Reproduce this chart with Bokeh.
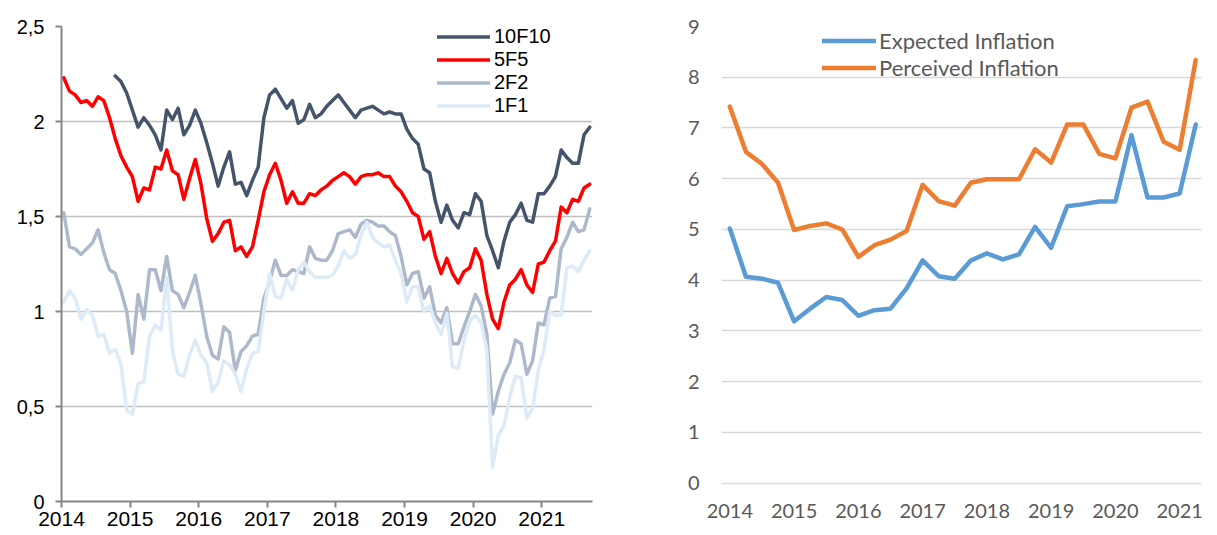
import math
from bokeh.plotting import figure
from bokeh.models import ColumnDataSource, FixedTicker, Legend, LegendItem
from bokeh.layouts import row
from bokeh.embed import file_html
from bokeh.resources import INLINE

nan = float("nan")

# ---------------- Left panel data: monthly forward inflation expectations ----------------
left_first_year = 2014
left_n_months = 93  # Jan 2014 .. Sep 2021

f10_10 = [nan] * 9 + [
    2.24, 2.21, 2.15, 2.06, 1.97, 2.02, 1.98, 1.93, 1.85, 2.06,
    2.01, 2.07, 1.93, 1.98, 2.06, 1.99, 1.89, 1.78, 1.66, 1.76,
    1.84, 1.67, 1.68, 1.61, 1.69, 1.76, 2.02, 2.14, 2.17, 2.12,
    2.07, 2.11, 1.99, 2.01, 2.09, 2.02, 2.04, 2.08, 2.11, 2.14,
    2.10, 2.06, 2.02, 2.06, 2.07, 2.08, 2.06, 2.04, 2.05, 2.04,
    2.04, 1.96, 1.91, 1.88, 1.75, 1.73, 1.58, 1.47, 1.56, 1.48,
    1.44, 1.52, 1.51, 1.62, 1.58, 1.40, 1.32, 1.23, 1.37, 1.47,
    1.51, 1.57, 1.48, 1.47, 1.62, 1.62, 1.66, 1.71, 1.85, 1.81,
    1.78, 1.78, 1.93, 1.97,
]
f5_5 = [
    2.23, 2.16, 2.14, 2.10, 2.11, 2.08, 2.13, 2.11, 2.02, 1.91,
    1.82, 1.76, 1.71, 1.58, 1.65, 1.64, 1.76, 1.75, 1.85, 1.74,
    1.72, 1.59, 1.70, 1.80, 1.67, 1.49, 1.37, 1.41, 1.47, 1.48,
    1.32, 1.34, 1.29, 1.34, 1.48, 1.63, 1.72, 1.78, 1.69, 1.57,
    1.63, 1.57, 1.57, 1.62, 1.61, 1.64, 1.66, 1.69, 1.71, 1.73,
    1.71, 1.67, 1.71, 1.72, 1.72, 1.73, 1.71, 1.71, 1.66, 1.63,
    1.58, 1.52, 1.50, 1.38, 1.42, 1.29, 1.20, 1.28, 1.20, 1.15,
    1.21, 1.23, 1.33, 1.27, 1.09, 0.96, 0.91, 1.05, 1.14, 1.17,
    1.22, 1.14, 1.10, 1.25, 1.26, 1.32, 1.37, 1.55, 1.52, 1.59,
    1.58, 1.65, 1.67,
]
f2_2 = [
    1.52, 1.34, 1.33, 1.30, 1.33, 1.36, 1.43, 1.31, 1.22, 1.20,
    1.11, 1.00, 0.78, 1.09, 0.96, 1.22, 1.22, 1.11, 1.29, 1.11,
    1.09, 1.02, 1.10, 1.19, 1.04, 0.87, 0.77, 0.75, 0.92, 0.89,
    0.69, 0.79, 0.82, 0.87, 0.88, 1.07, 1.16, 1.27, 1.19, 1.19,
    1.22, 1.21, 1.20, 1.34, 1.28, 1.27, 1.27, 1.32, 1.41, 1.42,
    1.43, 1.39, 1.46, 1.48, 1.47, 1.45, 1.45, 1.42, 1.40, 1.29,
    1.14, 1.20, 1.21, 1.07, 1.13, 0.98, 0.94, 1.02, 0.83, 0.83,
    0.92, 1.00, 1.09, 1.03, 0.88, 0.46, 0.58, 0.67, 0.73, 0.85,
    0.83, 0.67, 0.74, 0.94, 0.93, 1.07, 1.08, 1.33, 1.39, 1.47,
    1.42, 1.43, 1.54,
]
f1_1 = [
    1.05, 1.11, 1.07, 0.96, 1.01, 0.98, 0.87, 0.88, 0.78, 0.80,
    0.72, 0.48, 0.46, 0.62, 0.63, 0.87, 0.93, 0.90, 1.18, 0.79,
    0.67, 0.66, 0.77, 0.85, 0.77, 0.73, 0.58, 0.63, 0.74, 0.72,
    0.67, 0.58, 0.70, 0.78, 0.79, 1.00, 1.20, 1.08, 1.07, 1.17,
    1.11, 1.22, 1.26, 1.21, 1.18, 1.18, 1.18, 1.19, 1.24, 1.32,
    1.28, 1.30, 1.40, 1.47, 1.39, 1.36, 1.34, 1.35, 1.27, 1.20,
    1.05, 1.13, 1.13, 1.00, 1.03, 0.94, 0.88, 0.99, 0.71, 0.70,
    0.85, 0.95, 0.98, 0.94, 0.80, 0.18, 0.35, 0.40, 0.55, 0.66,
    0.65, 0.44, 0.49, 0.69, 0.80, 1.00, 0.98, 0.98, 1.23, 1.24,
    1.21, 1.27, 1.32,
]
left_series_names = ["10F10", "5F5", "2F2", "1F1"]
left_x_ticks = [2014, 2015, 2016, 2017, 2018, 2019, 2020, 2021]
left_x_labels = ["2014", "2015", "2016", "2017", "2018", "2019", "2020", "2021"]
left_y_ticks = [0, 0.5, 1, 1.5, 2, 2.5]
left_y_labels = ["0", "0,5", "1", "1,5", "2", "2,5"]

# ---------------- Right panel data: quarterly household inflation ----------------
right_first_year = 2014
expected_infl = [5.02, 4.07, 4.03, 3.95, 3.19, 3.44, 3.67, 3.61, 3.30, 3.41,
                 3.44, 3.84, 4.39, 4.08, 4.03, 4.39, 4.53, 4.41, 4.51, 5.05,
                 4.64, 5.46, 5.50, 5.55, 5.55, 6.86, 5.63, 5.63, 5.71, 7.07]
perceived_infl = [7.42, 6.53, 6.29, 5.92, 4.99, 5.07, 5.12, 5.00, 4.46, 4.69,
                  4.80, 4.97, 5.88, 5.56, 5.47, 5.92, 5.99, 5.99, 5.99, 6.58,
                  6.32, 7.07, 7.07, 6.49, 6.40, 7.40, 7.52, 6.73, 6.57, 8.34]
right_series_names = ["Expected Inflation", "Perceived Inflation"]
right_x_ticks = [2014, 2015, 2016, 2017, 2018, 2019, 2020, 2021]
right_x_labels = ["2014", "2015", "2016", "2017", "2018", "2019", "2020", "2021"]
right_y_ticks = list(range(0, 10))

FIG_H = 535
BOTTOM = 34  # shared bottom border (frames of a row are aligned by Bokeh)

# ---------------- Left figure ----------------
left_x = [left_first_year + (m + 0.4) / 12 for m in range(left_n_months)]
lsrc = ColumnDataSource(dict(x=left_x, a=f10_10, b=f5_5, c=f2_2, d=f1_1))

AXIS_GRAY = "#868686"
p1 = figure(width=620, height=FIG_H, x_range=(2014, 2021.74), y_range=(0, 2.5),
            output_backend="svg", toolbar_location=None,
            min_border_left=61, min_border_right=28, min_border_top=26,
            min_border_bottom=BOTTOM)
p1.outline_line_color = None
p1.xgrid.grid_line_color = None
p1.ygrid.grid_line_color = "#C0C0C0"
p1.ygrid.grid_line_width = 1.5

p1.xaxis.ticker = FixedTicker(ticks=left_x_ticks)
p1.xaxis.major_label_overrides = {t: l for t, l in zip(left_x_ticks, left_x_labels)}
p1.yaxis.ticker = FixedTicker(ticks=left_y_ticks)
p1.ygrid.ticker = FixedTicker(ticks=left_y_ticks)
p1.yaxis.major_label_overrides = {t: l for t, l in zip(left_y_ticks, left_y_labels)}
for ax in (p1.xaxis[0], p1.yaxis[0]):
    ax.axis_line_color = AXIS_GRAY
    ax.axis_line_width = 2
    ax.major_tick_line_color = AXIS_GRAY
    ax.major_tick_line_width = 2
    ax.major_tick_out = 6
    ax.major_tick_in = 0
    ax.minor_tick_line_color = None
    ax.major_label_text_font = "Liberation Sans"
    ax.major_label_text_color = "#000000"
    ax.axis_label_standoff = 0
p1.xaxis.major_label_text_font_size = "21px"
p1.yaxis.major_label_text_font_size = "20px"
p1.xaxis.major_label_standoff = 4
p1.yaxis.major_label_standoff = 11

left_colors = ["#44546A", "#FF0000", "#ADB9CA", "#DDEBF7"]
rends = []
for key, col in zip(["a", "b", "c", "d"], left_colors):
    r = p1.line("x", key, source=lsrc, line_color=col, line_width=3.5,
                line_join="round", line_cap="round")
    rends.append(r)

leg1 = Legend(items=[LegendItem(label=n, renderers=[r]) for n, r in zip(left_series_names, rends)],
              location=(376, 384), orientation="vertical",
              glyph_width=53, glyph_height=21, label_height=21, spacing=-1,
              padding=0, margin=0, label_standoff=4,
              label_text_font="Liberation Sans", label_text_font_size="20px",
              label_text_color="#000000", border_line_color=None,
              background_fill_alpha=0)
p1.add_layout(leg1)

# ---------------- Right figure ----------------
right_x = [right_first_year + q / 4 for q in range(len(expected_infl))]
rsrc = ColumnDataSource(dict(x=right_x, e=expected_infl, p=perceived_infl))

TXT_GRAY = "#595959"
# frame bottom is shared with the left panel; the value axis starts slightly
# below zero so that the zero gridline sits higher, as in the original
p2 = figure(width=597, height=FIG_H, x_range=(2013.87, 2021.34), y_range=(-0.36, 9),
            output_backend="svg", toolbar_location=None,
            min_border_left=101, min_border_right=16, min_border_top=26,
            min_border_bottom=BOTTOM)
p2.outline_line_color = None
p2.xgrid.grid_line_color = None
p2.ygrid.grid_line_color = "#D9D9D9"
p2.ygrid.grid_line_width = 1.5
p2.xaxis.ticker = FixedTicker(ticks=right_x_ticks)
p2.xaxis.major_label_overrides = {t: l for t, l in zip(right_x_ticks, right_x_labels)}
p2.yaxis.ticker = FixedTicker(ticks=right_y_ticks)
p2.ygrid.ticker = FixedTicker(ticks=right_y_ticks)
for ax in (p2.xaxis[0], p2.yaxis[0]):
    ax.axis_line_color = None
    ax.major_tick_line_color = None
    ax.minor_tick_line_color = None
    ax.major_tick_out = 0
    ax.major_label_text_font = "Lato"
    ax.major_label_text_font_size = "20px"
    ax.major_label_text_color = TXT_GRAY
    ax.axis_label_standoff = 0
p2.xaxis.major_label_standoff = 2
p2.yaxis.major_label_standoff = 22

right_colors = ["#5B9BD5", "#ED7D31"]
r_e = p2.line("x", "e", source=rsrc, line_color=right_colors[0], line_width=4.5,
              line_join="round", line_cap="round")
r_p = p2.line("x", "p", source=rsrc, line_color=right_colors[1], line_width=4.5,
              line_join="round", line_cap="round")
leg2 = Legend(items=[LegendItem(label=right_series_names[0], renderers=[r_e]),
                     LegendItem(label=right_series_names[1], renderers=[r_p])],
              location=(101, 420), orientation="vertical",
              glyph_width=54, glyph_height=27, label_height=27, spacing=0,
              padding=0, margin=0, label_standoff=3,
              label_text_font="Lato", label_text_font_size="22px",
              label_text_color=TXT_GRAY, border_line_color=None,
              background_fill_alpha=0)
p2.add_layout(leg2)

layout = row(p1, p2)
with open("out.html", "w") as f:
    f.write(file_html(layout, INLINE))
